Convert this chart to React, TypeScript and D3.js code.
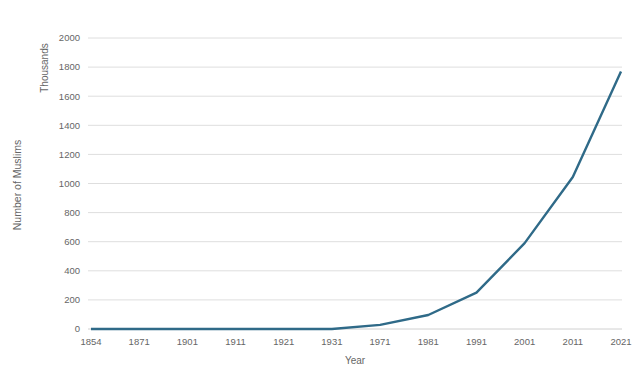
import React from "react";
import * as d3 from "d3";

const years = ["1854", "1871", "1901", "1911", "1921", "1931", "1971", "1981", "1991", "2001", "2011", "2021"];
const muslims = [0, 0, 0, 0, 0, 0, 28, 96, 250, 590, 1045, 1770];
const yTicks = [0, 200, 400, 600, 800, 1000, 1200, 1400, 1600, 1800, 2000];

export default function App() {
  const W = 640, H = 382;
  const x = d3.scalePoint<string>().domain(years).range([91, 621]);
  const y = d3.scaleLinear().domain([0, 2000]).range([329, 38]);
  const line = d3
    .line<number>()
    .x((_, i) => x(years[i]) as number)
    .y((d) => y(d));
  const font = "'Liberation Sans', Arial, sans-serif";
  return (
    <svg width={W} height={H} style={{ position: "absolute", left: 0, top: 0, background: "#fff" }}>
      <rect width={W} height={H} fill="#fff" />
      {yTicks.map((t) => (
        <g key={t}>
          <line x1={88} x2={622} y1={y(t)} y2={y(t)} stroke={t === 0 ? "#d0d0d0" : "#dedede"} strokeWidth={1} />
          <text x={80} y={y(t)} dy="0.35em" textAnchor="end" fontSize={9.5} fill="#666" fontFamily={font}>
            {t}
          </text>
        </g>
      ))}
      {years.map((yr) => (
        <text key={yr} x={x(yr)} y={345} textAnchor="middle" fontSize={9.5} fill="#666" fontFamily={font}>
          {yr}
        </text>
      ))}
      <path d={line(muslims) || ""} fill="none" stroke="#2f6a88" strokeWidth={2.4} strokeLinejoin="round" />
      <text x={355} y={364} textAnchor="middle" fontSize={10} fill="#666" fontFamily={font}>
        Year
      </text>
      <text transform="translate(21,185) rotate(-90)" textAnchor="middle" fontSize={10.5} fill="#666" fontFamily={font}>
        Number of Muslims
      </text>
      <text transform="translate(48,68) rotate(-90)" textAnchor="middle" fontSize={10} fill="#666" fontFamily={font}>
        Thousands
      </text>
    </svg>
  );
}
